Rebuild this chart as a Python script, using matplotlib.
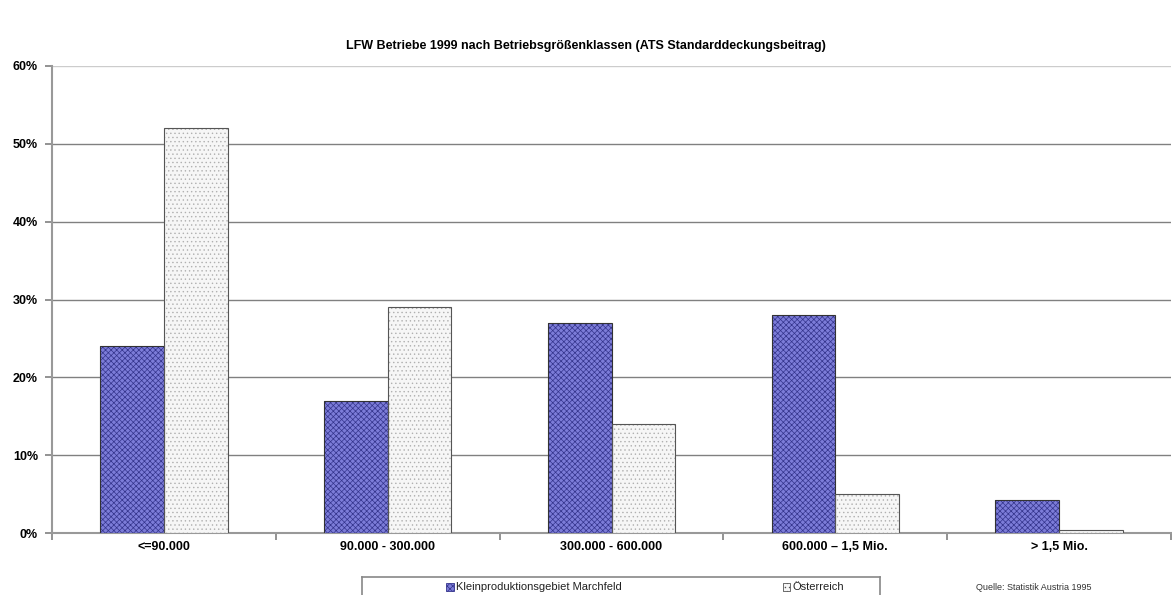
import matplotlib.pyplot as plt
import numpy as np

categories = ['<=90.000', '90.000 - 300.000', '300.000 - 600.000', '600.000 – 1,5 Mio.', '> 1,5 Mio.']
marchfeld = [24, 17, 27, 28, 4.3]
oesterreich = [52, 29, 14, 5, 0.4]
yticks = [0, 10, 20, 30, 40, 50, 60]

plt.rcParams['font.family'] = ['Liberation Sans', 'DejaVu Sans']
plt.rcParams['hatch.linewidth'] = 0.5

fig = plt.figure(figsize=(11.72, 5.95), dpi=100)
ax = fig.add_axes([52 / 1172, 1 - 533 / 595, (1171 - 52) / 1172, (533 - 66) / 595])

x = np.arange(len(categories))
w = 0.285

# Kleinproduktionsgebiet Marchfeld: blue with fine dark pattern
ax.bar(x - w / 2, marchfeld, w, color='#7c7cd8', edgecolor='#34348c', hatch='xxxxxx', linewidth=0, zorder=3)
ax.bar(x - w / 2, marchfeld, w, color='none', edgecolor='#333333', linewidth=0.8, zorder=4)
# Österreich: light dotted
ax.bar(x + w / 2, oesterreich, w, color='#f6f6f6', edgecolor='#b0b0b0', hatch='....', linewidth=0, zorder=3)
ax.bar(x + w / 2, oesterreich, w, color='none', edgecolor='#555555', linewidth=0.8, zorder=4)

ax.set_xlim(-0.5, len(categories) - 0.5)
ax.set_ylim(0, 60)
ax.set_yticks(yticks)
ax.set_yticklabels([f'{t}%' for t in yticks], fontsize=9, fontweight='bold')
ax.yaxis.grid(True, color='#808080', linewidth=1.0, zorder=0)
ax.set_axisbelow(True)
ax.get_ygridlines()[-1].set_color('#cccccc')

ax.set_xticks(x)
ax.set_xticklabels(categories, fontsize=9, fontweight='bold')
ax.tick_params(axis='x', length=0, pad=6)
ax.set_xticks(np.arange(-0.5, len(categories) + 0.5), minor=True)
ax.tick_params(axis='x', which='minor', length=5, color='#808080', width=1.2)
ax.tick_params(axis='y', length=5, color='#808080', width=1.2, pad=5)

for s in ['top', 'right']:
    ax.spines[s].set_visible(False)
for s in ['left', 'bottom']:
    ax.spines[s].set_color('#999999')
    ax.spines[s].set_linewidth(1.5)

fig.text(0.5, 1 - 46 / 595, 'LFW Betriebe 1999 nach Betriebsgrößenklassen (ATS Standarddeckungsbeitrag)',
         ha='center', va='center', fontsize=9, fontweight='bold')

# legend box at bottom
leg_ax = fig.add_axes([362 / 1172, 0, (880 - 362) / 1172, 18 / 595])
leg_ax.set_xlim(0, 1)
leg_ax.set_ylim(0, 1)
leg_ax.set_xticks([])
leg_ax.set_yticks([])
for s in leg_ax.spines.values():
    s.set_color('#888888')
    s.set_linewidth(1.2)
leg_ax.spines['bottom'].set_visible(False)
leg_ax.add_patch(plt.Rectangle((0.163, 0.2), 0.014, 0.45, facecolor='#7c7cd8', edgecolor='#34348c',
                               hatch='xxxxxx', linewidth=0.6))
leg_ax.text(0.182, 0.42, 'Kleinproduktionsgebiet Marchfeld', fontsize=8, va='center', color='#222222')
leg_ax.add_patch(plt.Rectangle((0.813, 0.2), 0.014, 0.45, facecolor='#f6f6f6', edgecolor='#555555',
                               hatch='....', linewidth=0.6))
leg_ax.text(0.832, 0.42, 'Österreich', fontsize=8, va='center', color='#222222')

fig.text(1034 / 1172, 1 - 587 / 595, 'Quelle: Statistik Austria 1995', ha='center', va='center',
         fontsize=6.5, color='#333333')

fig.savefig('out.png', dpi=100)
